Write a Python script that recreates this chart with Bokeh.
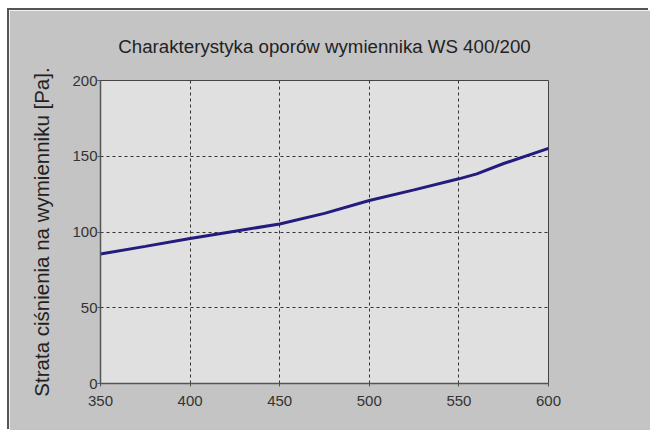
from bokeh.plotting import figure
from bokeh.models import Range1d, FixedTicker
from bokeh.embed import file_html
from bokeh.resources import INLINE

flow = [350, 375, 400, 425, 450, 475, 500, 525, 550, 560, 575, 600]
pressure_loss = [85.5, 90.5, 95.7, 100.5, 105.3, 112.3, 120.8, 127.8, 135.1, 138.4, 145.2, 155.2]
x_ticks = [350, 400, 450, 500, 550, 600]
y_ticks = [0, 50, 100, 150, 200]
title_text = "Charakterystyka oporów wymiennika WS 400/200"

FONT = "Liberation Sans"

p = figure(
    output_backend="svg", toolbar_location=None,
    frame_width=448, frame_height=303,
    min_border_left=91, min_border_right=102, min_border_top=69, min_border_bottom=48,
    x_range=Range1d(350, 600), y_range=Range1d(0, 200),
    title=title_text,
)
p.styles = {"margin-left": "9px", "margin-top": "10px", "box-shadow": "-2px -2px 0 #555555"}

p.background_fill_color = "#e0e0e0"
p.border_fill_color = "#c4c4c4"
p.outline_line_color = "#444444"
p.outline_line_width = 1

p.title.text_font = FONT
p.title.text_font_size = "18.7px"
p.title.text_font_style = "normal"
p.title.text_color = "#222222"
p.title.align = "center"
p.title.standoff = 47

p.line(flow, pressure_loss, line_color="#231c7e", line_width=3)

for ax in (p.xaxis[0], p.yaxis[0]):
    ax.major_label_text_font = FONT
    ax.major_label_text_font_size = "15px"
    ax.major_label_text_color = "#333333"
    ax.axis_line_color = "#555555"
    ax.axis_line_width = 1.5
    ax.major_tick_line_color = "#555555"
    ax.major_tick_in = 0
    ax.major_tick_out = 3
    ax.minor_tick_line_color = None

p.xaxis.ticker = FixedTicker(ticks=x_ticks)
p.yaxis.ticker = FixedTicker(ticks=y_ticks)
p.xaxis.major_label_standoff = 9
p.yaxis.major_label_standoff = 0

p.yaxis.axis_label = "Strata ciśnienia na wymienniku [Pa]."
p.yaxis.axis_label_text_font = FONT
p.yaxis.axis_label_text_font_size = "20.5px"
p.yaxis.axis_label_text_font_style = "normal"
p.yaxis.axis_label_text_color = "#222222"
p.yaxis.axis_label_standoff = 16

p.xgrid[0].ticker = FixedTicker(ticks=x_ticks)
p.ygrid[0].ticker = FixedTicker(ticks=y_ticks)
for g in (p.xgrid[0], p.ygrid[0]):
    g.grid_line_color = "#333333"
    g.grid_line_dash = "3 3"
    g.grid_line_width = 1

open("out.html", "w").write(file_html(p, INLINE))
